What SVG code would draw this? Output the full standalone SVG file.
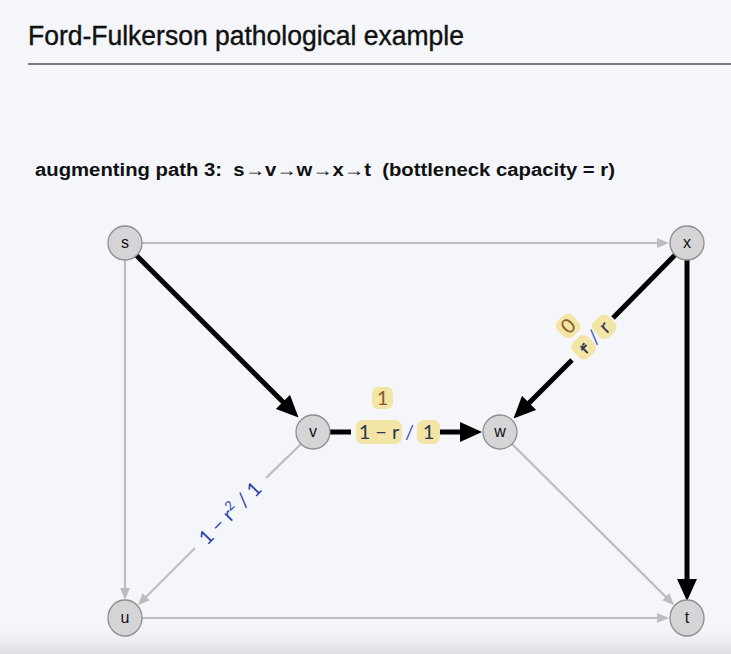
<svg xmlns="http://www.w3.org/2000/svg" width="731" height="654" viewBox="0 0 731 654">
<defs>
<linearGradient id="bot" x1="0" y1="0" x2="0" y2="1">
<stop offset="0" stop-color="#f4f6fa" stop-opacity="0"/>
<stop offset="1" stop-color="#dcdde1"/>
</linearGradient>
<marker id="ab" viewBox="0 0 22 20" markerWidth="22" markerHeight="20" refX="10" refY="10" markerUnits="userSpaceOnUse" orient="auto">
<path d="M0,0 L22,10 L0,20 z" fill="#000"/>
</marker>
<marker id="ag" viewBox="0 0 12 10" markerWidth="12" markerHeight="10" refX="6" refY="5" markerUnits="userSpaceOnUse" orient="auto">
<path d="M0,0 L12,5 L0,10 z" fill="#bdbdc0"/>
</marker>
</defs>
<style>
.node circle,.node ellipse{fill:#d5d5d8;stroke:#8e8e92;stroke-width:1.3}
.node text{font-family:"Liberation Sans",Arial,sans-serif;font-size:16px;fill:#111;text-anchor:middle}
.g{stroke:#bdbdc0;stroke-width:2.2;fill:none}
.b{stroke:#000;stroke-width:5;fill:none}
.lbl{font-family:Lato,"Open Sans",sans-serif;font-size:20px;text-anchor:middle}
.box{fill:#f3e5a6}
</style>
<rect width="731" height="654" fill="#f4f6fa"/>
<rect x="0" y="622" width="731" height="32" fill="url(#bot)"/>
<text x="28" y="45" font-family="Liberation Sans,Arial,sans-serif" font-size="27" fill="#111" stroke="#111" stroke-width="0.4" textLength="436" lengthAdjust="spacingAndGlyphs">Ford-Fulkerson pathological example</text>
<line x1="28" y1="64" x2="731" y2="64" stroke="#555" stroke-width="1.5"/>
<text x="35" y="176" font-family="Liberation Sans,Arial,sans-serif" font-weight="bold" font-size="18" fill="#111" textLength="580" lengthAdjust="spacingAndGlyphs" xml:space="preserve">augmenting path 3:  s→v→w→x→t  (bottleneck capacity = r)</text>
<g id="edges">
<line class="g" x1="142" y1="243" x2="663" y2="243" marker-end="url(#ag)"/>
<line class="g" x1="125" y1="260" x2="125" y2="594" marker-end="url(#ag)"/>
<line class="g" x1="142" y1="618" x2="663" y2="618" marker-end="url(#ag)"/>
<line class="g" x1="301" y1="444" x2="266" y2="478"/>
<line class="g" x1="195" y1="548" x2="142" y2="601" marker-end="url(#ag)"/>
<line class="g" x1="512" y1="444" x2="670" y2="601" marker-end="url(#ag)"/>
<line class="b" x1="136" y1="255" x2="290" y2="409" marker-end="url(#ab)"/>
<line class="b" x1="675" y1="255" x2="613" y2="318"/>
<line class="b" x1="572" y1="360" x2="522" y2="410" marker-end="url(#ab)"/>
<line class="b" x1="687" y1="260" x2="687" y2="589" marker-end="url(#ab)"/>
<line class="b" x1="330" y1="432" x2="351" y2="432"/>
<line class="b" x1="439" y1="432" x2="470" y2="432" marker-end="url(#ab)"/>
</g>
<g id="label-vw">
<rect class="box" x="372" y="387" width="21" height="22" rx="6"/>
<text class="lbl" x="382.5" y="405" fill="#8a5a2a">1</text>
<rect class="box" x="356" y="420" width="46" height="24" rx="7"/>
<text class="lbl" x="379" y="439" fill="#2a3550">1 − r</text>
<text class="lbl" x="409.5" y="439" fill="#3a55c8">/</text>
<rect class="box" x="417" y="420" width="23" height="24" rx="7"/>
<text class="lbl" x="428.5" y="439" fill="#2a3550">1</text>
</g>
<g id="label-xw" transform="translate(594,337) rotate(-45)">
<rect class="box" x="-21" y="-37" width="21" height="22" rx="7"/>
<text class="lbl" x="-10.5" y="-19" fill="#8a5a2a">0</text>
<rect class="box" x="-25" y="-11" width="21" height="22" rx="7"/>
<text class="lbl" x="-14.5" y="7" fill="#2a3550" text-decoration="line-through">r</text>
<text class="lbl" x="0" y="7" fill="#3a55c8">/</text>
<rect class="box" x="4" y="-11" width="21" height="22" rx="7"/>
<text class="lbl" x="14.5" y="7" fill="#2a3550">r</text>
</g>
<g id="label-vu" transform="translate(230,513) rotate(-45)">
<text class="lbl" x="0" y="7" fill="#2c3fa8" xml:space="preserve">1 − r<tspan font-size="13" dy="-8">2</tspan><tspan dy="8"> / 1</tspan></text>
</g>
<g id="node-s" class="node"><circle cx="125" cy="243" r="17"/><text x="125" y="248">s</text></g>
<g id="node-x" class="node"><circle cx="687" cy="243" r="17"/><text x="687" y="248">x</text></g>
<g id="node-v" class="node"><circle cx="313" cy="432" r="17"/><text x="313" y="437">v</text></g>
<g id="node-w" class="node"><circle cx="500" cy="432" r="17"/><text x="500" y="437">w</text></g>
<g id="node-u" class="node"><ellipse cx="125" cy="618" rx="17" ry="18"/><text x="125" y="623">u</text></g>
<g id="node-t" class="node"><ellipse cx="687" cy="618" rx="17" ry="18"/><text x="687" y="623">t</text></g>
</svg>
